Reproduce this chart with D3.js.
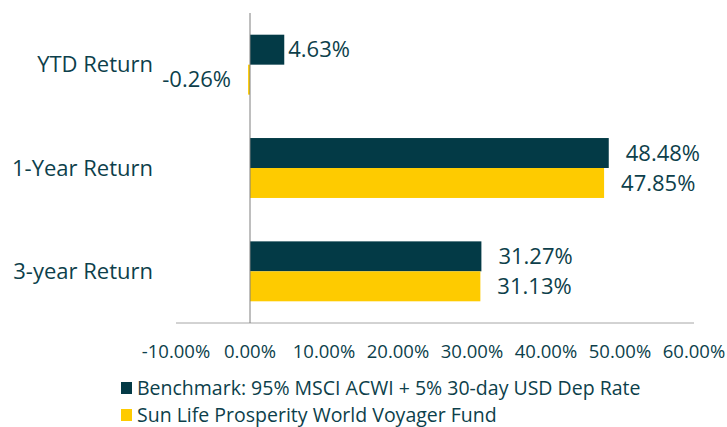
<!DOCTYPE html>
<html>
<head>
<meta charset="utf-8">
<script src="https://cdn.jsdelivr.net/npm/d3@7"></script>
<style>
  body { margin: 0; background: #fff; }
  svg { display: block; font-family: "Open Sans", "Noto Sans", sans-serif; }
</style>
</head>
<body>
<div id="chart"></div>
<script>
// chart data ---------------------------------------------------
const categories = ['YTD Return', '1-Year Return', '3-year Return'];
const seriesNames = ['Benchmark: 95% MSCI ACWI + 5% 30-day USD Dep Rate', 'Sun Life Prosperity World Voyager Fund'];
const benchmark = [4.63, 48.48, 31.27];
const fund = [-0.26, 47.85, 31.13];
const tickValues = [-10, 0, 10, 20, 30, 40, 50, 60];

const colors = ['#033a46', '#fecb00'];
const textColor = '#0d3f4b';
const width = 727, height = 427;
// excel style percent with a plain hyphen
const pct = v => d3.format('.2f')(v).replace('\u2212', '-') + '%';

const svg = d3.select('#chart').append('svg')
  .attr('width', width)
  .attr('height', height);

const x = d3.scaleLinear().domain([-10, 60]).range([176, 694]);
const y = d3.scaleBand().domain(categories).range([13, 323])
  .paddingInner(0.42).paddingOuter(0.21);
const ySub = d3.scaleBand().domain([0, 1]).range([0, y.bandwidth()]);

const rows = categories.map((c, i) => ({cat: c, values: [benchmark[i], fund[i]]}));

// bars
const groups = svg.selectAll('g.cat')
  .data(rows)
  .enter().append('g')
    .attr('class', 'cat')
    .attr('transform', d => `translate(0,${y(d.cat)})`);

groups.selectAll('rect')
  .data(d => d.values.map((v, s) => ({v, s})))
  .enter().append('rect')
    .attr('x', d => x(Math.min(0, d.v)))
    .attr('y', d => ySub(d.s))
    .attr('width', d => Math.max(1.5, Math.abs(x(d.v) - x(0))))
    .attr('height', ySub.bandwidth())
    .attr('fill', d => colors[d.s]);

// value labels
groups.selectAll('text.val')
  .data(d => d.values.map((v, s) => ({v, s})))
  .enter().append('text')
    .attr('class', 'val')
    .attr('x', d => d.v < 0 ? x(d.v) - 17 : x(d.v) + (d.v < 10 ? 4 : 17))
    .attr('y', d => ySub(d.s) + ySub.bandwidth() / 2)
    .attr('dy', '0.35em')
    .attr('text-anchor', d => d.v < 0 ? 'end' : 'start')
    .attr('font-size', '22px')
    .attr('fill', textColor)
    .text(d => pct(d.v));

// axes lines
svg.append('line')
  .attr('x1', x(-10)).attr('x2', x(60))
  .attr('y1', 323).attr('y2', 323)
  .attr('stroke', '#a6a6a6').attr('stroke-width', 1);

svg.append('line')
  .attr('x1', x(0)).attr('x2', x(0))
  .attr('y1', 13).attr('y2', 323)
  .attr('stroke', '#7f7f7f').attr('stroke-width', 1);

// x tick labels
svg.selectAll('text.tick')
  .data(tickValues)
  .enter().append('text')
    .attr('class', 'tick')
    .attr('x', d => x(d))
    .attr('y', 352)
    .attr('dy', '0.35em')
    .attr('text-anchor', 'middle')
    .attr('font-size', '18.5px')
    .attr('fill', textColor)
    .text(d => pct(d));

// category labels
svg.selectAll('text.cat')
  .data(categories)
  .enter().append('text')
    .attr('class', 'cat')
    .attr('x', 153)
    .attr('y', d => y(d) + y.bandwidth() / 2)
    .attr('dy', '0.35em')
    .attr('text-anchor', 'end')
    .attr('font-size', '22px')
    .attr('fill', textColor)
    .text(d => d);

// legend
const legend = svg.selectAll('g.legend')
  .data(seriesNames)
  .enter().append('g')
    .attr('class', 'legend')
    .attr('transform', (d, i) => `translate(121,${388 + i * 27})`);

legend.append('rect')
  .attr('x', 0).attr('y', -6)
  .attr('width', 11).attr('height', 12)
  .attr('fill', (d, i) => colors[i]);

legend.append('text')
  .attr('x', 16)
  .attr('dy', '0.35em')
  .attr('font-size', '19.5px')
  .attr('fill', textColor)
  .text(d => d);
</script>
</body>
</html>
